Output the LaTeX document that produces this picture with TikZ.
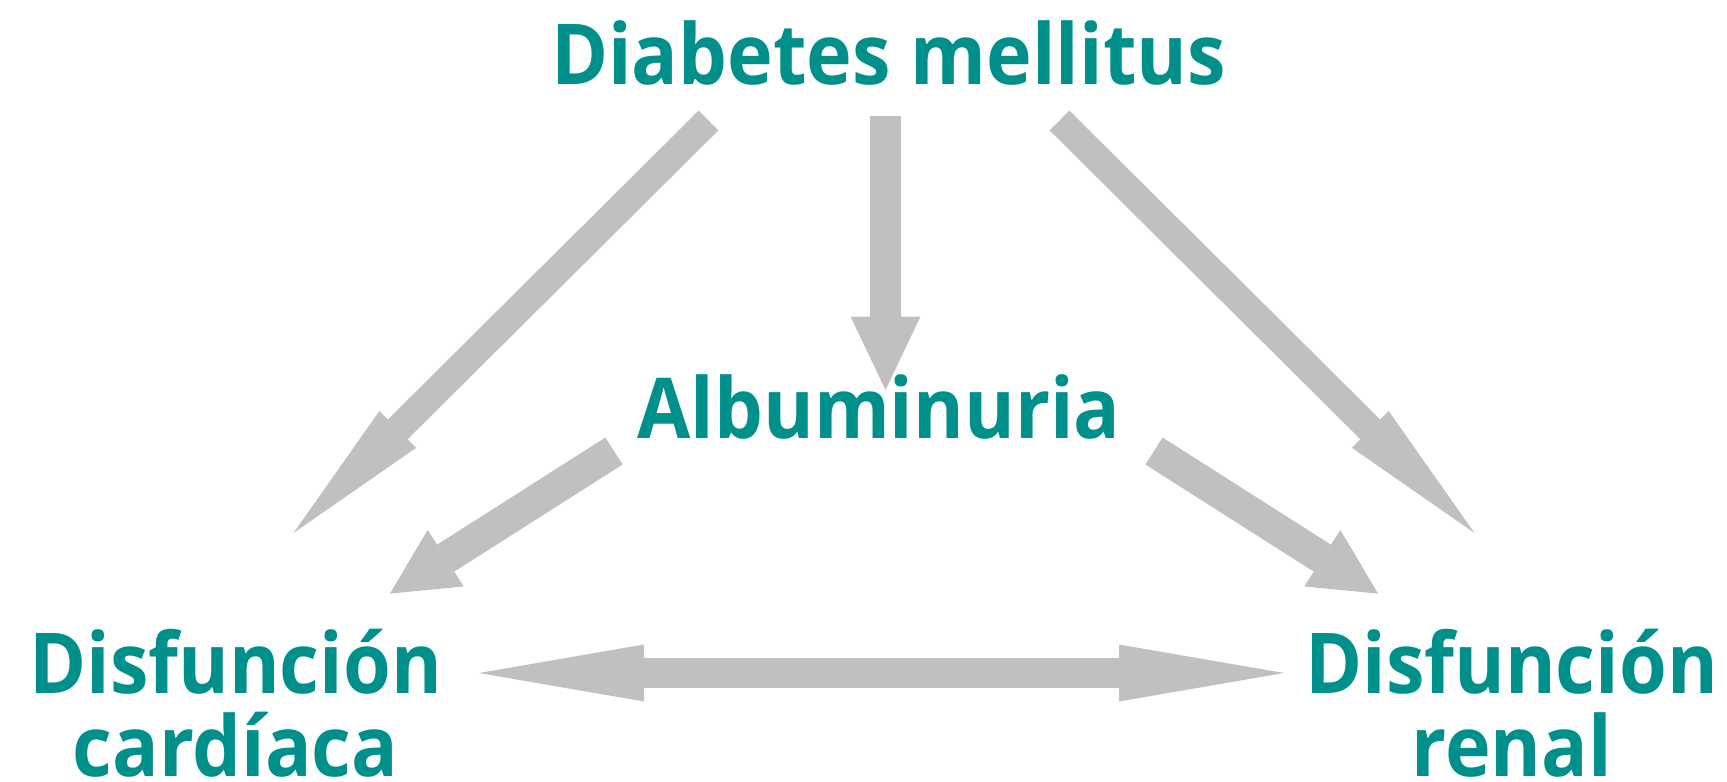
\documentclass[tikz,border=0pt]{standalone}
\usepackage{fontspec}
\newfontfamily\lab{Open Sans}[FakeStretch=0.92]
\usetikzlibrary{arrows.meta}
\definecolor{tealtxt}{RGB}{0,144,140}
\definecolor{arrgray}{RGB}{192,192,192}
\begin{document}
\begin{tikzpicture}[x=0.5pt,y=-0.5pt,
  lbl/.style={text=tealtxt, font=\lab\bfseries\fontsize{42pt}{41.3pt}\selectfont, inner sep=0pt, align=center},
  fat/.style={draw=arrgray, line width=#1}]
\useasboundingbox (0,0) rectangle (1727,781);
\node[lbl, anchor=base] (dm) at (888.5,85) {Diabetes mellitus};
\node[lbl, anchor=base] (alb) at (879,438) {Albuminuria};
\node[lbl, anchor=base] (card) at (235.6,776.5) {Disfunción\\cardíaca};
\node[lbl, anchor=base] (ren) at (1511.6,776.5) {Disfunción\\renal};
% arrow ends
\coordinate (v0) at (885.5,116);   \coordinate (v1) at (885.5,390);
\coordinate (l0) at (708.5,120.5); \coordinate (l1) at (293.5,533);
\coordinate (r0) at (1059.5,120.5);\coordinate (r1) at (1474.5,533);
\coordinate (al0) at (614,451);    \coordinate (al1) at (390,593.6);
\coordinate (ar0) at (1154,451);   \coordinate (ar1) at (1378,593.6);
\coordinate (h0) at (479,673);     \coordinate (h1) at (1284,673);
\draw[fat=15.5pt, -{Triangle[length=36.75pt,width=35pt,line width=0pt]}] (v0) -- (v1);
\draw[fat=14pt, -{Triangle[length=73.5pt,width=26pt,line width=0pt]}] (l0) -- (l1);
\draw[fat=14pt, -{Triangle[length=73.5pt,width=26pt,line width=0pt]}] (r0) -- (r1);
\draw[fat=16pt, -{Triangle[length=33pt,width=33.5pt,line width=0pt]}] (al0) -- (al1);
\draw[fat=16pt, -{Triangle[length=33pt,width=33.5pt,line width=0pt]}] (ar0) -- (ar1);
\draw[fat=15pt, {Triangle[length=82.5pt,width=28.5pt,line width=0pt]}-{Triangle[length=82.5pt,width=28.5pt,line width=0pt]}] (h0) -- (h1);
\end{tikzpicture}
\end{document}
